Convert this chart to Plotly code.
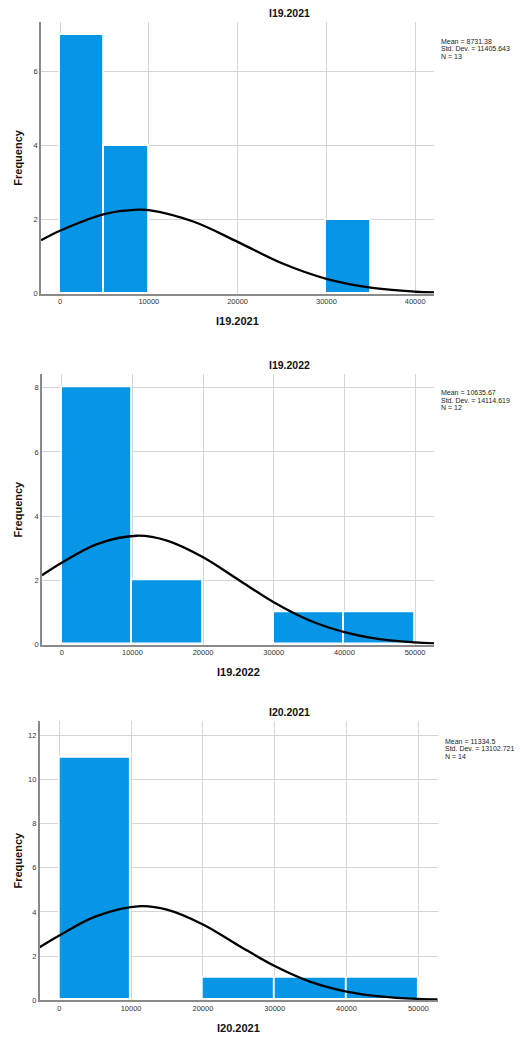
import plotly.graph_objects as go

# histogram data: left edge of each bin, bin width and frequency
i19_2021_bins = [0, 5000, 30000]
i19_2021_counts = [7, 4, 2]
i19_2021_width = 5000

i19_2022_bins = [0, 10000, 30000, 40000]
i19_2022_counts = [8, 2, 1, 1]
i19_2022_width = 10000

i20_2021_bins = [0, 20000, 30000, 40000]
i20_2021_counts = [11, 1, 1, 1]
i20_2021_width = 10000

# normal curve points
i19_2021_curve_x = [-2140, 0, 5000, 8731, 10000, 15000, 20000, 25000, 30000, 35000, 40000, 42120]
i19_2021_curve_y = [1.44, 1.70, 2.15, 2.27, 2.26, 1.95, 1.40, 0.82, 0.40, 0.16, 0.05, 0.03]

i19_2022_curve_x = [-2790, 0, 5000, 10636, 15000, 20000, 25000, 30000, 35000, 40000, 45000, 50000, 52680]
i19_2022_curve_y = [2.16, 2.55, 3.13, 3.39, 3.23, 2.72, 2.02, 1.32, 0.76, 0.39, 0.17, 0.07, 0.04]

i20_2021_curve_x = [-2730, 0, 5000, 11335, 15000, 20000, 25000, 30000, 35000, 40000, 45000, 50000, 52700]
i20_2021_curve_y = [2.40, 2.93, 3.79, 4.26, 4.10, 3.43, 2.47, 1.55, 0.83, 0.39, 0.16, 0.055, 0.03]

titles = ["I19.2021", "I19.2022", "I20.2021"]
stats = [
    ["Mean = 8731.38", "Std. Dev. = 11405.643", "N = 13"],
    ["Mean = 10635.67", "Std. Dev. = 14114.619", "N = 12"],
    ["Mean = 11334.5", "Std. Dev. = 13102.721", "N = 14"],
]

W, H = 520, 1044
BAR_COLOR = "#0796e6"
FONT = "Liberation Sans, Arial, sans-serif"

# pixel boxes of each plot area: left, right, top, bottom
boxes = [(41, 434, 22, 295), (42, 434, 376, 647.7), (39.7, 437.7, 724.3, 1005)]
x_ranges = [[-2140, 42120], [-2790, 52680], [-2730, 52700]]
y_ranges = [[0, 7.35], [0, 8.42], [0, 12.66]]
stats_pos = [(439, 36), (439, 389), (442.7, 739.5)]
title_y = [13, 366.7, 715]
xlabel_y = [323, 675, 1033]

panels = [
    (i19_2021_bins, i19_2021_counts, i19_2021_width, i19_2021_curve_x, i19_2021_curve_y),
    (i19_2022_bins, i19_2022_counts, i19_2022_width, i19_2022_curve_x, i19_2022_curve_y),
    (i20_2021_bins, i20_2021_counts, i20_2021_width, i20_2021_curve_x, i20_2021_curve_y),
]

fig = go.Figure()
annotations = []

for i, (bins, counts, width, cx, cy) in enumerate(panels):
    n = "" if i == 0 else str(i + 1)
    xa, ya = "x" + n, "y" + n
    left, right, top, bottom = boxes[i]

    fig.add_trace(go.Bar(
        x=bins, y=counts, width=[width] * len(bins), offset=0,
        marker=dict(color=BAR_COLOR, line=dict(color="white", width=1.8)),
        xaxis=xa, yaxis=ya, showlegend=False, hoverinfo="skip",
    ))
    fig.add_trace(go.Scatter(
        x=cx, y=cy, mode="lines", line=dict(color="black", width=2.3, shape="spline"),
        xaxis=xa, yaxis=ya, showlegend=False, hoverinfo="skip", cliponaxis=True,
    ))

    axis_common = dict(
        showgrid=True, gridcolor="#d4d4d4", gridwidth=1.3,
        zeroline=False, showline=True, linecolor="#8a8a8a", linewidth=1.5,
        ticks="", tickfont=dict(family=FONT, size=7.5, color="#333"),
        fixedrange=True,
    )
    fig.layout["xaxis" + n] = dict(
        axis_common, domain=[left / W, right / W], range=x_ranges[i],
        dtick=10000, tick0=0, tickformat="d", anchor=ya,
    )
    fig.layout["yaxis" + n] = dict(
        axis_common, domain=[1 - bottom / H, 1 - top / H], range=y_ranges[i],
        dtick=2, tick0=0, anchor=xa,
    )

    annotations.append(dict(
        text="<b>" + titles[i] + "</b>", x=289 / W, y=1 - title_y[i] / H,
        xref="paper", yref="paper", showarrow=False, xanchor="center", yanchor="middle",
        font=dict(family=FONT, size=10.5, color="#111"),
    ))
    annotations.append(dict(
        text="<b>" + titles[i] + "</b>", x=(left + right) / 2 / W, y=1 - xlabel_y[i] / H,
        xref="paper", yref="paper", showarrow=False, xanchor="center", yanchor="middle",
        font=dict(family=FONT, size=11, color="#111"),
    ))
    annotations.append(dict(
        text="<b>Frequency</b>", x=18 / W, y=1 - (top + bottom) / 2 / H, textangle=-90,
        xref="paper", yref="paper", showarrow=False, xanchor="center", yanchor="middle",
        font=dict(family=FONT, size=11, color="#111"),
    ))
    sx, sy = stats_pos[i]
    for j, line in enumerate(stats[i]):
        annotations.append(dict(
            text=line, x=sx / W, y=1 - (sy + j * 7.4) / H,
            xref="paper", yref="paper", showarrow=False, xanchor="left", yanchor="top",
            font=dict(family=FONT, size=7, color="#222"),
        ))

fig.update_layout(
    width=W, height=H, margin=dict(l=0, r=0, t=0, b=0),
    paper_bgcolor="white", plot_bgcolor="white",
    bargap=0, annotations=annotations,
)

# drop the default page margin so the 520x1044 figure fits the window exactly
fig.write_html(
    "out.html", config={"displayModeBar": False},
    post_script="document.body.style.margin='0';document.body.style.overflow='hidden';",
)
